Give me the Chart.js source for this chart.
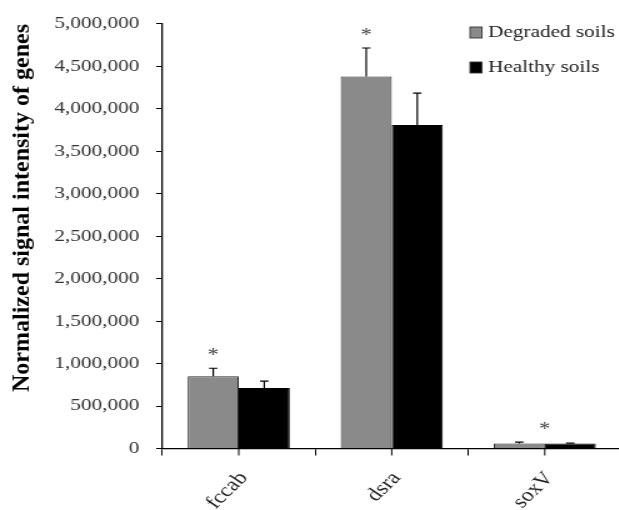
<!DOCTYPE html>
<html><head><meta charset="utf-8">
<script src="https://cdn.jsdelivr.net/npm/chart.js@4"></script>
<style>
html,body{margin:0;padding:0;overflow:hidden;background:#fff;width:619px;height:510px;}
#wrap{position:absolute;left:0;top:0;width:497px;height:510px;transform:scaleX(1.25);transform-origin:0 0;}
canvas{display:block;}
</style></head><body>
<div id="wrap"><canvas id="c" width="497" height="510" style="width:497px;height:510px"></canvas></div>
<script>
const categories = ['fccab', 'dsra', 'soxV'];
const seriesNames = ['Degraded soils', 'Healthy soils'];
const degradedValues = [850000, 4380000, 60000];
const degradedErrors = [95000, 335000, 14000];
const healthyValues = [712000, 3810000, 60000];
const healthyErrors = [82000, 375000, 4000];
const significanceMarks = ['*', '*', '*'];
const significanceOver = ['Degraded soils', 'Degraded soils', 'both'];
const yTickValues = [0, 500000, 1000000, 1500000, 2000000, 2500000, 3000000, 3500000, 4000000, 4500000, 5000000];
const yTitle = 'Normalized signal intensity of genes';

const STRETCH = 1.25;
const serif = "'Liberation Serif','Times New Roman',serif";

const errorBars = {
  id: 'errorBars',
  afterDatasetsDraw(chart) {
    const ctx = chart.ctx, y = chart.scales.y;
    chart.data.datasets.forEach((ds, di) => {
      const meta = chart.getDatasetMeta(di);
      meta.data.forEach((bar, i) => {
        const err = ds.errors[i];
        if (!err) return;
        const top = y.getPixelForValue(ds.data[i] + err);
        ctx.save();
        ctx.strokeStyle = '#000';
        ctx.lineWidth = 1.2;
        ctx.beginPath();
        ctx.moveTo(bar.x, bar.y);
        ctx.lineTo(bar.x, top);
        ctx.moveTo(bar.x - 3.4, top);
        ctx.lineTo(bar.x + 3.4, top);
        ctx.stroke();
        ctx.restore();
      });
    });
  }
};

const sigMarks = {
  id: 'sigMarks',
  afterDatasetsDraw(chart) {
    const ctx = chart.ctx, y = chart.scales.y, x = chart.scales.x;
    const dsets = chart.data.datasets;
    significanceMarks.forEach((mark, i) => {
      if (!mark) return;
      let px, topVal;
      if (significanceOver[i] === 'both') {
        px = x.getPixelForValue(i);
        topVal = Math.max(...dsets.map(d => d.data[i] + (d.errors[i] || 0)));
      } else {
        const di = dsets.findIndex(d => d.label === significanceOver[i]);
        px = chart.getDatasetMeta(di).data[i].x;
        topVal = dsets[di].data[i] + (dsets[di].errors[i] || 0);
      }
      const py = y.getPixelForValue(topVal) - 17;
      ctx.save();
      ctx.fillStyle = '#444';
      ctx.font = '18px ' + serif;
      ctx.textAlign = 'center';
      ctx.textBaseline = 'alphabetic';
      ctx.fillText(mark, px, py + 10);
      ctx.restore();
    });
  }
};

const centerTicks = {
  id: 'centerTicks',
  afterDraw(chart) {
    const ctx = chart.ctx, x = chart.scales.x, b = chart.chartArea.bottom;
    ctx.save();
    ctx.strokeStyle = '#000';
    ctx.lineWidth = 1;
    categories.forEach((c, i) => {
      const px = x.getPixelForValue(i);
      ctx.beginPath();
      ctx.moveTo(px, b);
      ctx.lineTo(px, b + 7);
      ctx.stroke();
    });
    ctx.restore();
  }
};

const customLegend = {
  id: 'customLegend',
  afterDraw(chart) {
    const ctx = chart.ctx;
    const rows = [32.5, 67.5];
    chart.data.datasets.forEach((ds, i) => {
      const cy = rows[i];
      ctx.save();
      ctx.fillStyle = ds.backgroundColor;
      ctx.strokeStyle = '#333';
      ctx.lineWidth = 0.9;
      ctx.fillRect(376, cy - 5.5, 9.6, 11);
      ctx.strokeRect(376, cy - 5.5, 9.6, 11);
      ctx.fillStyle = '#222';
      ctx.font = '17px ' + serif;
      ctx.textAlign = 'left';
      ctx.textBaseline = 'middle';
      ctx.fillText(ds.label, 390.4, cy);
      ctx.restore();
    });
  }
};

const yTitlePlugin = {
  id: 'yTitlePlugin',
  afterDraw(chart) {
    const ctx = chart.ctx;
    ctx.save();
    ctx.translate(17.6, 208);
    ctx.scale(1 / STRETCH, 1);
    ctx.rotate(-Math.PI / 2);
    ctx.fillStyle = '#000';
    ctx.font = 'bold 24px ' + serif;
    ctx.textAlign = 'center';
    ctx.textBaseline = 'middle';
    ctx.fillText(yTitle, 0, 0);
    ctx.restore();
  }
};

new Chart(document.getElementById('c'), {
  type: 'bar',
  data: {
    labels: categories,
    datasets: [
      { label: seriesNames[0], data: degradedValues, errors: degradedErrors,
        backgroundColor: '#8a8a8a', borderColor: '#2a2a2a', borderWidth: 1 },
      { label: seriesNames[1], data: healthyValues, errors: healthyErrors,
        backgroundColor: '#000000', borderColor: '#000000', borderWidth: 1 }
    ]
  },
  options: {
    responsive: false,
    animation: false,
    devicePixelRatio: 1,
    layout: { padding: { top: 21, right: 0, bottom: 0, left: 0 } },
    datasets: { bar: { categoryPercentage: 0.667, barPercentage: 1.0 } },
    plugins: { legend: { display: false }, tooltip: { enabled: false } },
    scales: {
      x: {
        grid: { display: true, drawOnChartArea: false, drawTicks: true, tickLength: 7, color: '#000', offset: true },
        border: { display: true, color: '#000', width: 1.3 },
        ticks: { font: { family: serif, size: 19 }, color: '#222', minRotation: 50, maxRotation: 50, padding: 12, labelOffset: 4, autoSkip: false },
        afterFit(s) { s.height = 61.5; }
      },
      y: {
        min: 0, max: 5000000,
        grid: { drawOnChartArea: false, drawTicks: true, tickLength: 4.8, color: '#000' },
        border: { display: true, color: '#000', width: 1.3 },
        ticks: { font: { family: serif, size: 17 }, color: '#333', padding: 13.6,
          callback: v => v.toLocaleString('en-US') },
        afterBuildTicks(s) { s.ticks = yTickValues.map(v => ({ value: v })); },
        afterFit(s) { s.width = 129.8; }
      }
    }
  },
  plugins: [errorBars, sigMarks, centerTicks, customLegend, yTitlePlugin]
});
</script>
</body></html>
